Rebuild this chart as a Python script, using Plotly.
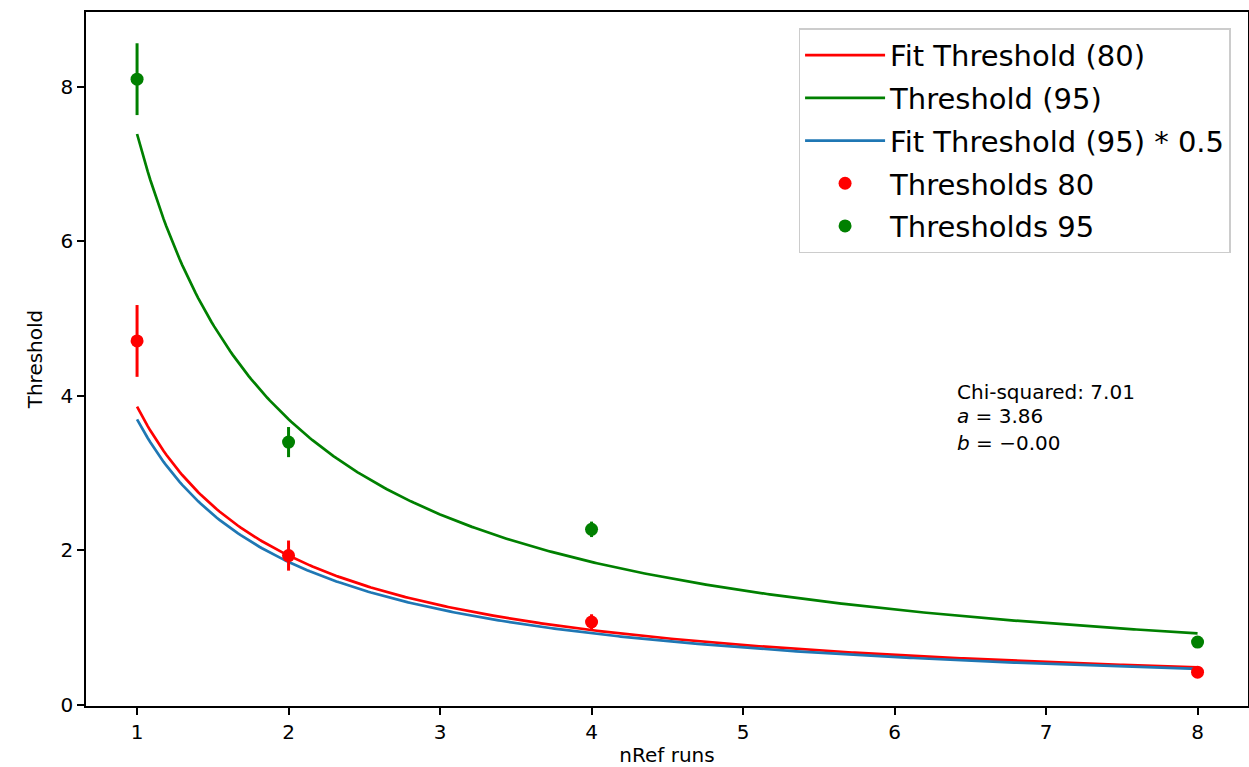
import numpy as np
import plotly.graph_objects as go

# Measured data points
n_ref = [1, 2, 4, 8]
thr80 = [4.71, 1.93, 1.07, 0.42]
thr80_err = [0.465, 0.195, 0.10, 0.05]
thr95 = [8.10, 3.40, 2.27, 0.81]
thr95_err = [0.465, 0.195, 0.10, 0.05]

# Fit parameters (model: a / x + b)
a80 = 3.86
b80 = 0.0
a95 = 7.39
scale95 = 0.5
chi2 = 7.01

x_ticks = [1, 2, 3, 4, 5, 6, 7, 8]
y_ticks = [0, 2, 4, 6, 8]

xf = np.linspace(1, 8, 400)
fit80 = a80 / xf + b80
fit95 = a95 / xf
fit95_half = fit95 * scale95

FONT = "DejaVu Sans"
fig = go.Figure()

fig.add_trace(go.Scatter(x=xf, y=fit80, mode="lines", name="Fit Threshold (80)",
                         line=dict(color="#ff0000", width=2.7), legendgroup="g1"))
fig.add_trace(go.Scatter(x=xf, y=fit95, mode="lines", name="Threshold (95)",
                         line=dict(color="#008000", width=2.7), legendgroup="g2"))
fig.add_trace(go.Scatter(x=xf, y=fit95_half, mode="lines", name="Fit Threshold (95) * 0.5",
                         line=dict(color="#1f77b4", width=2.7), legendgroup="g3"))
fig.add_trace(go.Scatter(x=n_ref, y=thr80, mode="markers", name="Thresholds 80",
                         marker=dict(color="#ff0000", size=13),
                         error_y=dict(type="data", array=thr80_err, color="#ff0000",
                                      thickness=3, width=0),
                         legendgroup="g4"))
fig.add_trace(go.Scatter(x=n_ref, y=thr95, mode="markers", name="Thresholds 95",
                         marker=dict(color="#008000", size=13),
                         error_y=dict(type="data", array=thr95_err, color="#008000",
                                      thickness=3, width=0),
                         legendgroup="g5"))

axis_common = dict(showline=True, linecolor="black", linewidth=1.6, mirror=True,
                   ticks="outside", ticklen=7, tickwidth=1.6, tickcolor="black",
                   showgrid=False, zeroline=False, automargin=False,
                   tickfont=dict(family=FONT, size=20, color="black"))

fig.update_layout(
    width=1249, height=767,
    margin=dict(l=86, r=1, t=12, b=61),
    plot_bgcolor="white", paper_bgcolor="white",
    font=dict(family=FONT, size=20, color="black"),
    xaxis=dict(range=[0.663, 8.333], tickvals=x_ticks, **axis_common,
               title=dict(text="nRef runs", standoff=18,
                          font=dict(family=FONT, size=20, color="black"))),
    yaxis=dict(range=[-0.018, 8.97], tickvals=y_ticks, **axis_common,
               title=dict(text="Threshold", standoff=12,
                          font=dict(family=FONT, size=20, color="black"))),
    legend=dict(x=0.985, y=0.9765, xanchor="right", yanchor="top",
                font=dict(family=FONT, size=29, color="black"),
                bordercolor="#cccccc", borderwidth=1.5, itemwidth=80,
                bgcolor="rgba(255,255,255,0.8)", tracegroupgap=2),
    showlegend=True,
)

ann_lines = [
    (4.045, f"Chi-squared: {chi2:.2f}"),
    (3.735, f"<i>a</i> = {a80:.2f}"),
    (3.385, f"<i>b</i> = \u2212{abs(b80):.2f}"),
]
for yv, txt in ann_lines:
    fig.add_annotation(x=6.4, y=yv, xref="x", yref="y", text=txt, showarrow=False,
                       xanchor="left", yanchor="middle",
                       font=dict(family=FONT, size=20, color="black"))

fig.write_html("out.html")
